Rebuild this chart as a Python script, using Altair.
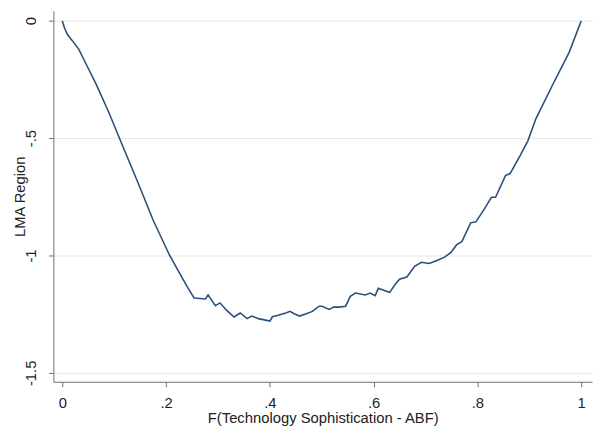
import altair as alt
import pandas as pd

# Curve
x_vals = [0.0, 0.004, 0.01, 0.019, 0.032, 0.044, 0.065, 0.089, 0.118, 0.145, 0.175,
          0.207, 0.229, 0.241, 0.254, 0.276, 0.281, 0.295, 0.304, 0.317, 0.331,
          0.343, 0.356, 0.365, 0.378, 0.400, 0.405, 0.416, 0.432, 0.439, 0.447,
          0.457, 0.470, 0.482, 0.495, 0.501, 0.514, 0.523, 0.533, 0.546, 0.555,
          0.565, 0.584, 0.593, 0.603, 0.609, 0.622, 0.631, 0.641, 0.650, 0.664,
          0.679, 0.692, 0.707, 0.722, 0.736, 0.749, 0.760, 0.770, 0.787, 0.797,
          0.812, 0.827, 0.835, 0.854, 0.863, 0.882, 0.897, 0.913, 0.945, 0.977, 1.0]
y_vals = [0.0, -0.029, -0.059, -0.084, -0.122, -0.176, -0.269, -0.387, -0.542, -0.685, -0.849,
          -1.0, -1.087, -1.134, -1.181, -1.185, -1.168, -1.214, -1.202, -1.234, -1.262,
          -1.245, -1.269, -1.258, -1.269, -1.279, -1.261, -1.255, -1.244, -1.238, -1.248,
          -1.258, -1.248, -1.238, -1.216, -1.216, -1.230, -1.220, -1.220, -1.216, -1.174,
          -1.160, -1.168, -1.160, -1.171, -1.140, -1.150, -1.157, -1.125, -1.101, -1.092,
          -1.046, -1.029, -1.034, -1.021, -1.008, -0.987, -0.954, -0.941, -0.861, -0.857,
          -0.807, -0.752, -0.752, -0.660, -0.651, -0.576, -0.513, -0.416, -0.273, -0.134, 0.0]

x_ticks = [0, 0.2, 0.4, 0.6, 0.8, 1]
y_ticks = [0, -0.5, -1, -1.5]

df = pd.DataFrame({"x": x_vals, "y": y_vals})

label_expr = "replace(toString(datum.value), '0.', '.')"
font = "Liberation Sans"

chart = alt.Chart(df).mark_line(color="#2a5079", strokeWidth=1.6).encode(
    x=alt.X(
        "x:Q",
        scale=alt.Scale(domain=[-0.0171, 1.0209], nice=False, zero=False),
        axis=alt.Axis(
            values=x_ticks, labelExpr=label_expr, title="F(Technology Sophistication - ABF)",
            grid=False, tickSize=5, labelPadding=9, labelFlush=False, labelOverlap=False,
            domainColor="#707070", tickColor="#707070", labelColor="#222222",
            titleColor="#222222", labelFont=font, titleFont=font, labelFontSize=15,
            titleFontSize=15, titleFontWeight="normal", titleY=29, titleBaseline="top",
        ),
    ),
    y=alt.Y(
        "y:Q",
        scale=alt.Scale(domain=[-1.5378, 0.042], nice=False, zero=False),
        axis=alt.Axis(
            values=y_ticks, labelExpr=label_expr, title="LMA Region",
            grid=True, gridColor="#e8e8e8", gridWidth=1, tickSize=5, labelPadding=10,
            labelFlush=False, labelOverlap=False, labelAngle=-90, labelAlign="center",
            labelBaseline="bottom",
            domainColor="#707070", tickColor="#707070", labelColor="#222222",
            titleColor="#222222", labelFont=font, titleFont=font, labelFontSize=15,
            titleFontSize=15, titleFontWeight="normal", titleX=-26, titleY=188,
            titleBaseline="bottom", titleAngle=270,
        ),
    ),
).properties(
    width=546,
    height=376,
    padding={"left": 46, "top": 0, "right": 5, "bottom": 42},
    autosize=alt.AutoSizeParams(type="none"),
    background="white",
).configure_view(stroke=None)

chart.save("out.html", embed_options={"renderer": "svg", "actions": False})
